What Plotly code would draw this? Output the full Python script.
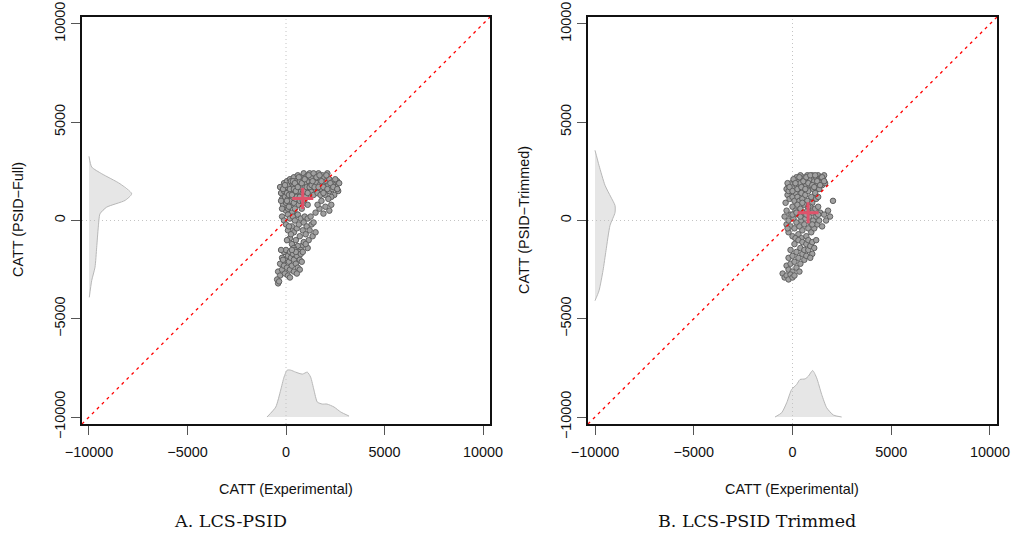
import plotly.graph_objects as go

# ---------------- data ----------------
AXIS_MIN, AXIS_MAX = -10355, 10355
DENS_BASE = -10000
tick_vals = [-10000, -5000, 0, 5000, 10000]
tick_text = ["\u221210000", "\u22125000", "0", "5000", "10000"]

# Panel A scatter (CATT experimental, CATT PSID-Full)
a_upper = [(-300,1700),(-250,1400),(-200,1100),(-150,800),(-100,1900),(-100,1500),(-50,1200),(0,900),(0,1700),(0,500),
           (50,2000),(50,1400),(100,1100),(100,600),(150,1800),(150,1300),(200,2100),(200,800),(250,1500),(250,1000),
           (300,1900),(300,400),(350,1700),(350,1200),(400,2200),(400,900),(450,1400),(450,600),(500,2000),(500,1100),
           (550,1700),(550,300),(600,2300),(600,1300),(650,800),(650,1900),(700,1500),(700,1000),(750,2200),(750,1700),
           (800,1200),(800,600),(850,2000),(850,1400),(900,2400),(900,900),(950,1700),(950,1100),(1000,2200),(1000,1500),
           (1050,1900),(1050,1300),(1100,2300),(1100,800),(1150,1600),(1150,2000),(1200,1200),(1200,2400),(1250,1800),(1300,1500),
           (1300,2100),(1350,2300),(1400,1700),(1400,1300),(1450,2000),(1500,2300),(1500,1600),(1550,1900),(1600,1400),(1600,2200),
           (1650,2400),(1700,1800),(1750,2100),(1800,1600),(1850,2300),(1900,1900),(1950,2200),(2000,1700),(2000,1300),(2050,2000),
           (2100,2400),(2150,1800),(2200,1500),(2200,2100),(2300,1900),(2350,1600),(2400,2000),(2450,1300),(2500,1800),(2550,1700),
           (2600,2000),(2700,1900),(2650,1500),(2300,1200),(2150,1100),(-200,600),(-250,1000),(250,2000),(700,2000),(1250,2200),
           (-150,1600),(-50,1800),(50,1000),(150,700),(200,1600),(300,1300),(350,2000),(400,1600),(450,1900),(500,1500),
           (550,1200),(600,1700),(650,2200),(700,1200),(800,1900),(850,1000),(900,1500),(950,2100),(1000,1200),(1050,1700),
           (1100,1400),(1150,2300),(1200,1700),(1300,1800),(1350,2000),(1400,2400),(1450,1700),(1550,2200),(1650,1700),(1700,2300),
           (1800,2000),(1900,1700),(2050,2300),(2100,1600),(2250,1900),(2400,1700),(2500,2100),(2600,1600),(1750,1300),(1900,1400)]
a_right = [(1500,400),(1700,600),(1900,350),(2200,500),(2000,700),(1600,800),(1800,1000),(2300,800)]
a_middle = [(-200,200),(-100,0),(0,-200),(100,300),(100,-500),(200,100),(200,-900),(300,-300),(300,-1200),(350,200),
            (400,-600),(450,0),(500,-1000),(550,-400),(600,300),(650,-200),(700,-800),(750,100),(800,-1300),(850,-500),
            (900,-100),(950,200),(1000,-700),(1050,-300),(1100,100),(1150,-1000),(1200,-500),(1300,-200),(1250,200),(1400,-100),
            (1350,-800),(1500,-600),(1100,-1400),(900,-1100),(600,-1300),(400,-1400),(250,-700),(150,-300),(50,-1000),(750,-1500),
            (1000,-1200)]
a_lower = [(-400,-2600),(-300,-2200),(-300,-2800),(-200,-1900),(-200,-2500),(-100,-1600),(-100,-2300),(-50,-2700),(0,-2000),(0,-1500),
           (50,-2400),(100,-1800),(100,-2800),(150,-2100),(200,-1600),(200,-2500),(250,-1900),(300,-2300),(350,-1700),(400,-2000),
           (400,-2600),(450,-1500),(500,-2200),(550,-1800),(600,-2400),(650,-1600),(700,-2000),(750,-1700),(800,-2100),(850,-1600),
           (500,-1600),(300,-1500),(-150,-2000),(-250,-1500),(700,-2500),(550,-2700),(200,-2900)]
a_tail = [(-450,-3000),(-400,-3200),(-350,-3100)]
a_mean = (850, 1120)

# Panel B scatter (CATT experimental, CATT PSID-Trimmed)
b_upper = [(-300,1600),(-250,1300),(-200,1800),(-150,1100),(-100,1500),(-50,1900),(0,1200),(50,1700),(100,1000),(100,2000),
           (150,1400),(200,1800),(250,1200),(300,2100),(300,1600),(350,1000),(400,1900),(450,1400),(500,2200),(500,1100),
           (550,1700),(600,2000),(650,1300),(700,1800),(750,2300),(750,1000),(800,1500),(850,2100),(900,1800),(950,1200),
           (1000,2300),(1050,1600),(1100,2000),(1150,1400),(1200,2200),(1250,1800),(1300,2300),(1350,1600),(1400,2000),(1450,2200),
           (1500,1800),(1550,2100),(1600,2300),(1650,1900),(1200,1100),(1000,900),(1300,1200),(400,2300),(200,2200),(-200,1500),
           (-250,1900),(-150,1700),(0,1500),(50,2100),(150,1900),(250,1600),(350,2200),(450,1700),(550,2000),(650,1600),
           (700,2200),(800,1900),(900,2300),(1000,1800),(1100,1700),(1150,2300),(1250,2000),(1400,1800),(1500,2200),(1600,2000)]
b_middle = [(-400,200),(-300,-200),(-300,500),(-200,0),(-200,-600),(-100,300),(-100,-300),(0,700),(0,-800),(50,100),
            (100,-400),(150,500),(200,-100),(250,800),(300,300),(300,-700),(350,-300),(400,600),(450,0),(500,-500),
            (550,400),(600,800),(600,-200),(650,100),(700,-800),(750,500),(800,-400),(850,200),(900,700),(900,-100),
            (950,-600),(1000,400),(1050,0),(1100,-400),(1150,600),(1200,200),(1250,-200),(1300,700),(1350,0),(1400,400),
            (1500,-300),(1600,300),(1700,0),(1800,500),(2050,1000),(1900,200),(450,-900),(150,-900),
            (-350,900),(0,300),(200,400),(400,200),(700,300),(1000,-200),(1300,300),(500,900),(800,700),(-250,-400)]
b_lower = [(-300,-2300),(-200,-1900),(-200,-2500),(-100,-1500),(-100,-2200),(0,-1800),(0,-2600),(100,-1200),(100,-2100),(200,-1600),
           (200,-2400),(300,-1000),(300,-1900),(400,-1400),(400,-2200),(500,-1700),(500,-1100),(600,-1500),(600,-2000),(700,-1200),
           (700,-1800),(800,-1000),(800,-1500),(900,-1300),(1000,-1100),(1100,-1400),(1200,-1000),(1000,-1700),(350,-2600),(900,-1900)]
b_tail = [(-500,-2700),(-400,-2900),(-300,-2800),(-200,-3000),(-100,-2750),(0,-2900),(100,-2800)]
b_mean = (790, 390)

# Marginal densities (value, height in axis units above the baseline)
a_xdens_v = [-965,-520,-270,-100,60,240,490,830,1080,1250,1420,1590,1840,2080,2440,2780,3200]
a_xdens_h = [0,508,1370,2030,2385,2385,2284,2183,2284,2030,1370,761,660,660,508,254,50]
a_ydens_v = [3265,2720,2380,1870,1360,1020,680,340,-340,-1360,-2380,-3060,-3910]
a_ydens_h = [0,137,645,1574,2167,1827,898,558,472,391,305,137,15]
b_xdens_v = [-886,-548,-295,-42,211,380,633,802,1021,1224,1477,1730,2068,2490]
b_xdens_h = [0,218,724,1402,1656,1909,1939,2076,2365,1990,1149,471,101,0]
b_ydens_v = [3570,2800,1790,1200,765,400,-250,-1530,-2550,-3570,-4080]
b_ydens_h = [0,203,506,800,1013,1013,760,557,405,203,0]

# ---------------- figure ----------------
FONT = "Liberation Sans, Arial, sans-serif"
SERIF = "DejaVu Serif, serif"
PT_FILL = "#a0a0a0"
PT_LINE = "#5f5f5f"
DENS_FILL = "#e6e6e6"
DENS_LINE = "#b8b8b8"

fig = go.Figure()


def add_panel(xa, ya, regions, mean, xdv, xdh, ydv, ydh):
    # bottom density of x
    fig.add_trace(go.Scatter(x=xdv + xdv[::-1], y=[DENS_BASE + h for h in xdh] + [DENS_BASE] * len(xdv),
                             fill="toself", fillcolor=DENS_FILL, mode="none", xaxis=xa, yaxis=ya,
                             hoverinfo="skip", showlegend=False))
    fig.add_trace(go.Scatter(x=xdv, y=[DENS_BASE + h for h in xdh], mode="lines",
                             line=dict(color=DENS_LINE, width=1, shape="spline", smoothing=0.6),
                             xaxis=xa, yaxis=ya, hoverinfo="skip", showlegend=False))
    # left density of y
    fig.add_trace(go.Scatter(x=[DENS_BASE + h for h in ydh] + [DENS_BASE] * len(ydv), y=ydv + ydv[::-1],
                             fill="toself", fillcolor=DENS_FILL, mode="none", xaxis=xa, yaxis=ya,
                             hoverinfo="skip", showlegend=False))
    fig.add_trace(go.Scatter(x=[DENS_BASE + h for h in ydh], y=ydv, mode="lines",
                             line=dict(color=DENS_LINE, width=1, shape="spline", smoothing=0.6),
                             xaxis=xa, yaxis=ya, hoverinfo="skip", showlegend=False))
    # zero reference lines
    fig.add_trace(go.Scatter(x=[0, 0], y=[AXIS_MIN, AXIS_MAX], mode="lines",
                             line=dict(color="#c4c4c4", width=1, dash="1px,3px"),
                             xaxis=xa, yaxis=ya, hoverinfo="skip", showlegend=False))
    fig.add_trace(go.Scatter(x=[AXIS_MIN, AXIS_MAX], y=[0, 0], mode="lines",
                             line=dict(color="#c4c4c4", width=1, dash="1px,3px"),
                             xaxis=xa, yaxis=ya, hoverinfo="skip", showlegend=False))
    # points
    pts = [p for r in regions for p in r]
    fig.add_trace(go.Scatter(x=[p[0] for p in pts], y=[p[1] for p in pts], mode="markers",
                             marker=dict(symbol="circle", size=5.5, color=PT_FILL,
                                         line=dict(color=PT_LINE, width=1)),
                             xaxis=xa, yaxis=ya, showlegend=False))
    # 45-degree line
    fig.add_trace(go.Scatter(x=[AXIS_MIN, AXIS_MAX], y=[AXIS_MIN, AXIS_MAX], mode="lines",
                             line=dict(color="#ff0000", width=1.3, dash="3px,4px"),
                             xaxis=xa, yaxis=ya, hoverinfo="skip", showlegend=False))
    # mean cross
    fig.add_trace(go.Scatter(x=[mean[0]], y=[mean[1]], mode="markers",
                             marker=dict(symbol="cross-thin", size=15, color="#DF536B",
                                         line=dict(color="#DF536B", width=3)),
                             xaxis=xa, yaxis=ya, showlegend=False))


add_panel("x", "y", [a_upper, a_right, a_middle, a_lower, a_tail], a_mean,
          a_xdens_v, a_xdens_h, a_ydens_v, a_ydens_h)
add_panel("x2", "y2", [b_upper, b_middle, b_lower, b_tail], b_mean,
          b_xdens_v, b_xdens_h, b_ydens_v, b_ydens_h)

W, H = 1013, 544
common = dict(range=[AXIS_MIN, AXIS_MAX], tickvals=tick_vals, ticktext=tick_text, automargin=False,
              showgrid=False, zeroline=False, showline=True, linecolor="#111", linewidth=1.5,
              mirror=True, ticks="outside", ticklen=9, tickcolor="#555", tickwidth=1,
              tickfont=dict(family=FONT, size=14.4, color="#111"))
ydom = [1 - 424 / H, 1 - 17 / H]
fig.update_layout(
    width=W, height=H, margin=dict(l=0, r=0, t=0, b=0, autoexpand=False),
    paper_bgcolor="white", plot_bgcolor="white",
    xaxis=dict(domain=[82 / W, 490 / W], anchor="y", ticklabelstandoff=5, **common),
    yaxis=dict(domain=ydom, anchor="x", tickangle=-90, **common),
    xaxis2=dict(domain=[588 / W, 997 / W], anchor="y2", ticklabelstandoff=5, **common),
    yaxis2=dict(domain=ydom, anchor="x2", tickangle=-90, **common),
)

ann_font = dict(family=FONT, size=14.4, color="#111")
annots = [
    dict(text="CATT (Experimental)", x=286 / W, y=1 - 489 / H),
    dict(text="CATT (Experimental)", x=792 / W, y=1 - 489 / H),
    dict(text="CATT (PSID\u2212Full)", x=18 / W, y=1 - 220 / H, textangle=-90),
    dict(text="CATT (PSID\u2212Trimmed)", x=524 / W, y=1 - 220 / H, textangle=-90),
]
for a in annots:
    fig.add_annotation(xref="paper", yref="paper", showarrow=False, xanchor="center", yanchor="middle",
                       font=ann_font, **a)
for txt, xp in [("A. LCS-PSID", 230), ("B. LCS-PSID Trimmed", 757)]:
    fig.add_annotation(text=txt, x=xp / W, y=1 - 521 / H, xref="paper", yref="paper", showarrow=False,
                       xanchor="center", yanchor="middle", font=dict(family=SERIF, size=17.5, color="#111"))

fig.write_html("out.html", config={"displayModeBar": False},
               post_script="document.body.style.margin='0px';")
